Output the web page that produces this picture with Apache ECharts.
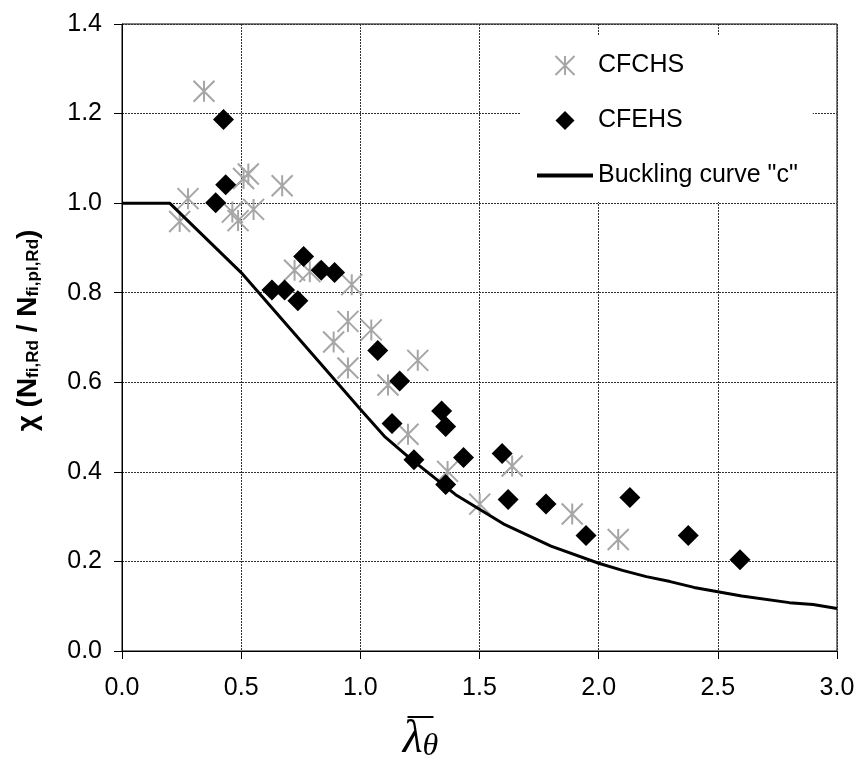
<!DOCTYPE html>
<html>
<head>
<meta charset="utf-8">
<title>Column buckling resistance at elevated temperature</title>
<script src="https://cdn.jsdelivr.net/npm/echarts@6/dist/echarts.min.js"></script>
<style>
  html, body { margin: 0; padding: 0; background: #fff; }
  #chart { width: 859px; height: 768px; }
</style>
</head>
<body>
<div id="chart"></div>
<script>
// Test results: [non-dimensional slenderness, reduction factor]
const cfchs = [
  [0.344, 1.250], [0.277, 1.010], [0.242, 0.959], [0.510, 1.055], [0.530, 1.065],
  [0.672, 1.039], [0.463, 0.980], [0.487, 0.961], [0.552, 0.986], [0.724, 0.850],
  [0.788, 0.847], [0.964, 0.818], [0.948, 0.736], [1.046, 0.717], [0.888, 0.690],
  [0.948, 0.632], [1.241, 0.649], [1.116, 0.594], [1.200, 0.484], [1.366, 0.401],
  [1.501, 0.328], [1.637, 0.413], [1.889, 0.306], [2.082, 0.249]
];
const cfehs = [
  [0.426, 1.187], [0.435, 1.041], [0.393, 1.001], [0.762, 0.881], [0.836, 0.850],
  [0.892, 0.845], [0.629, 0.806], [0.682, 0.806], [0.738, 0.782], [1.073, 0.671],
  [1.165, 0.603], [1.133, 0.508], [1.341, 0.536], [1.358, 0.501], [1.225, 0.427],
  [1.433, 0.432], [1.358, 0.372], [1.595, 0.441], [1.620, 0.338], [1.779, 0.328],
  [1.947, 0.258], [2.131, 0.343], [2.376, 0.258], [2.593, 0.204]
];
// Design buckling curve "c"
const curveC = [
  [0.0, 1.000], [0.2, 1.000], [0.5, 0.845], [1.0, 0.540], [1.1, 0.480],
  [1.2, 0.434], [1.4, 0.349], [1.6, 0.284], [1.8, 0.234], [2.0, 0.196],
  [2.1, 0.180], [2.2, 0.166], [2.3, 0.155], [2.4, 0.142], [2.6, 0.123],
  [2.8, 0.108], [2.9, 0.104], [3.0, 0.095]
];
const seriesNames = ['CFCHS', 'CFEHS', 'Buckling curve "c"'];
const xTicks = { min: 0, max: 3.0, step: 0.5 };
const yTicks = { min: 0, max: 1.4, step: 0.2 };

const FONT = '"Liberation Sans", Arial, sans-serif';
const NARROW = '"Liberation Sans Narrow", "Arial Narrow", "Liberation Sans", sans-serif';
const SERIF = '"Liberation Serif", "Times New Roman", serif';

// Marker shapes
const starPath = 'path://M0,0L10,10M10,0L0,10M5,0L5,10';
const diamondPath = 'path://M5,0L10,5L5,10L0,5Z';
const legendLinePath = 'path://M0,0H56V4H0Z';

const chart = echarts.init(document.getElementById('chart'));

const gridLine = { show: true, lineStyle: { color: '#333', width: 1, type: [2, 1] } };
const axisCommon = {
  axisLine: { show: true, onZero: false, lineStyle: { color: '#000', width: 1 } },
  axisTick: { show: true, inside: false, length: 8, lineStyle: { color: '#000' } },
  splitLine: gridLine
};

chart.setOption({
  animation: false,
  backgroundColor: '#fff',
  textStyle: { fontFamily: FONT },
  grid: {
    left: 122, right: 22, top: 24, bottom: 114,
    show: true, borderColor: '#000', borderWidth: 1, backgroundColor: 'transparent'
  },
  legend: {
    orient: 'vertical',
    left: 520, top: 35,
    padding: [18, 15, 14, 17],
    backgroundColor: '#fff',
    itemWidth: 56, itemHeight: 19, itemGap: 30,
    textStyle: { fontFamily: FONT, fontSize: 25, lineHeight: 25, color: '#000' },
    data: [
      { name: seriesNames[0], icon: starPath },
      { name: seriesNames[1], icon: diamondPath },
      { name: seriesNames[2], icon: legendLinePath }
    ]
  },
  xAxis: Object.assign({
    type: 'value',
    min: xTicks.min, max: xTicks.max, interval: xTicks.step,
    axisLabel: {
      margin: 25, fontFamily: FONT, fontSize: 25, color: '#000',
      formatter: v => v.toFixed(1)
    },
    name: '{bar| }\n{l|λ}{t|θ}',
    nameLocation: 'middle',
    nameGap: 64,
    nameTextStyle: {
      padding: [0, 118, 0, 0],
      rich: {
        bar: { width: 26, height: 2, lineHeight: 4, backgroundColor: '#000', fontSize: 2 },
        l: { fontFamily: SERIF, fontStyle: 'italic',
             fontSize: 46, lineHeight: 44, verticalAlign: 'bottom', color: '#000' },
        t: { fontFamily: SERIF, fontStyle: 'italic',
             fontSize: 32, lineHeight: 30, verticalAlign: 'bottom', color: '#000' }
      }
    }
  }, axisCommon),
  yAxis: Object.assign({
    type: 'value',
    min: yTicks.min, max: yTicks.max, interval: yTicks.step,
    axisLabel: {
      margin: 20, fontFamily: FONT, fontSize: 25, color: '#000',
      formatter: v => v.toFixed(1)
    },
    name: '{m|χ (N}{s|fi,Rd}{m| / N}{s|fi,pl,Rd}{m|)}',
    nameLocation: 'middle',
    nameRotate: 90,
    nameGap: 80,
    nameTextStyle: {
      padding: [0, 0, 0, 14],
      rich: {
        m: { fontFamily: NARROW, fontWeight: 'bold', fontSize: 28, lineHeight: 32,
             verticalAlign: 'bottom', color: '#000' },
        s: { fontFamily: NARROW, fontWeight: 'bold', fontSize: 17, lineHeight: 26,
             verticalAlign: 'bottom', color: '#000' }
      }
    }
  }, axisCommon),
  series: [
    {
      name: seriesNames[0],
      type: 'scatter',
      data: cfchs,
      symbol: starPath,
      symbolSize: 21,
      itemStyle: { color: 'transparent', borderColor: '#a6a6a6', borderWidth: 2, opacity: 1 },
      z: 2
    },
    {
      name: seriesNames[1],
      type: 'scatter',
      data: cfehs,
      symbol: 'diamond',
      symbolSize: 21,
      itemStyle: { color: '#000', opacity: 1 },
      z: 3
    },
    {
      name: seriesNames[2],
      type: 'line',
      data: curveC,
      symbol: 'none',
      showSymbol: false,
      lineStyle: { color: '#000', width: 3 },
      itemStyle: { color: '#000' },
      z: 4
    }
  ]
});
</script>
</body>
</html>
